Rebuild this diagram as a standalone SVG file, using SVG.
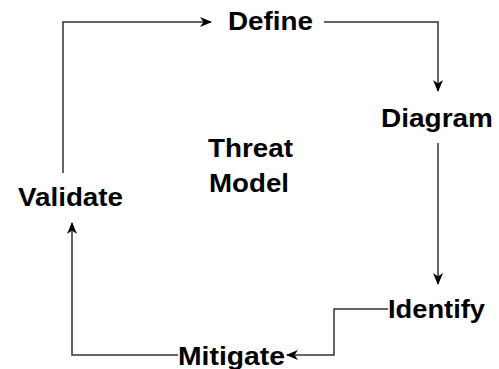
<svg xmlns="http://www.w3.org/2000/svg" width="499" height="369" viewBox="0 0 499 369">
<style>
.t{font-family:"Liberation Sans",Arial,sans-serif;font-weight:bold;font-size:25px;fill:#000}
.c{fill:none;stroke:#333;stroke-width:1.5}
</style>
<defs>
<marker id="a" viewBox="0 0 12 12" refX="11" refY="6" markerWidth="12" markerHeight="12" markerUnits="userSpaceOnUse" orient="auto">
<path d="M0,1 L12,6 L0,11 L3.5,6 Z" fill="#000"/>
</marker>
</defs>
<rect width="499" height="369" fill="#fff"/>
<g id="connectors">
<path class="c" d="M63,173 V22 H211" marker-end="url(#a)"/>
<path class="c" d="M324,22 H438 V91" marker-end="url(#a)"/>
<path class="c" d="M438,143 V284" marker-end="url(#a)"/>
<path class="c" d="M388,309 H334 V355 H287" marker-end="url(#a)"/>
<path class="c" d="M178,355 H72 V223" marker-end="url(#a)"/>
</g>
<g id="define"><text class="t" x="228" y="30" textLength="85" lengthAdjust="spacingAndGlyphs">Define</text></g>
<g id="diagram"><text class="t" x="381" y="127" textLength="112" lengthAdjust="spacingAndGlyphs">Diagram</text></g>
<g id="threat-model"><text class="t" x="208" y="157" textLength="85" lengthAdjust="spacingAndGlyphs">Threat</text><text class="t" x="209" y="192" textLength="80" lengthAdjust="spacingAndGlyphs">Model</text></g>
<g id="validate"><text class="t" x="18" y="206" textLength="105" lengthAdjust="spacingAndGlyphs">Validate</text></g>
<g id="identify"><text class="t" x="388" y="318" textLength="97" lengthAdjust="spacingAndGlyphs">Identify</text></g>
<g id="mitigate"><text class="t" x="178" y="365" textLength="107" lengthAdjust="spacingAndGlyphs">Mitigate</text></g>
</svg>
